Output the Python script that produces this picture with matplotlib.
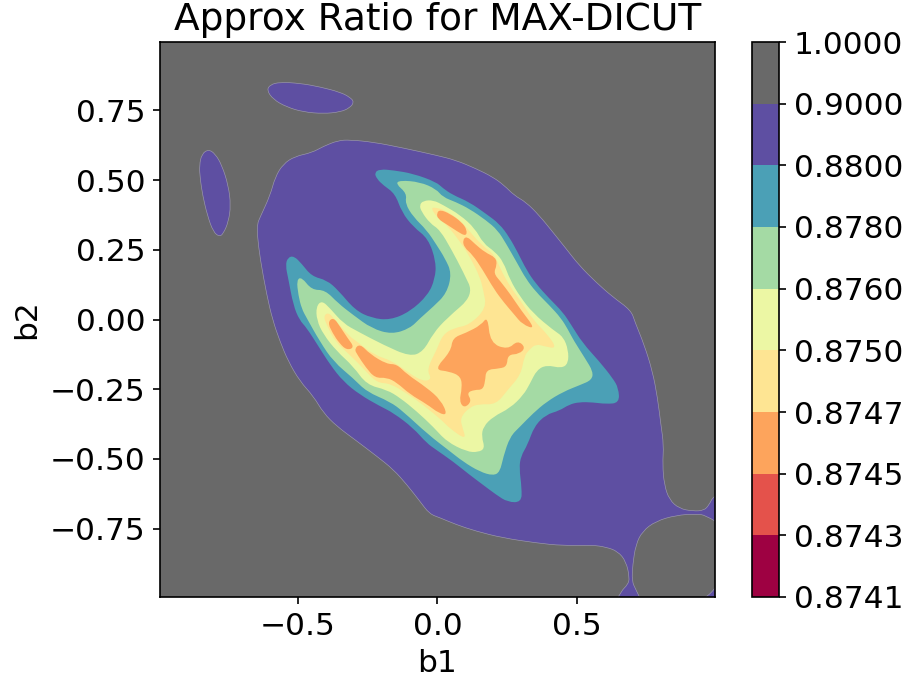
import matplotlib
matplotlib.use("Agg")
import matplotlib.pyplot as plt
from matplotlib.cm import ScalarMappable
from matplotlib.colors import BoundaryNorm, ListedColormap
from matplotlib.patches import PathPatch
from matplotlib.path import Path

# contour levels of the approximation ratio and their band colours
levels = [0.8741, 0.8743, 0.8745, 0.8747, 0.8750, 0.8760, 0.8780, 0.8800, 0.9000, 1.0000]
band_colors = ['#9e0142', '#e4524b', '#fda45c', '#fee593', '#ecf7a4',
               '#a4daa4', '#4ba0b6', '#5e4fa2', '#696969']
title = 'Approx Ratio for MAX-DICUT'

# contour outlines, (b1, b2) pairs
# band 0.88-0.90
purple_top = [(-0.612,0.822),(-0.600,0.842),(-0.565,0.851),(-0.493,0.847),(-0.421,0.834),(-0.349,0.815),(-0.314,0.797),
              (-0.299,0.780),(-0.314,0.759),(-0.349,0.744),(-0.409,0.738),(-0.481,0.744),(-0.541,0.762),(-0.589,0.789)]
purple_left = [(-0.854,0.553),(-0.845,0.594),(-0.821,0.610),(-0.797,0.594),(-0.773,0.553),(-0.750,0.481),(-0.741,0.409),
               (-0.750,0.349),(-0.768,0.308),(-0.782,0.297),(-0.804,0.314),(-0.825,0.373),(-0.842,0.445),(-0.851,0.505)]
purple_main = [(-0.646,0.343),(-0.636,0.367),(-0.600,0.445),(-0.582,0.511),(-0.553,0.558),(-0.511,0.585),(-0.451,0.598),
               (-0.409,0.621),(-0.356,0.642),(-0.314,0.644),(-0.230,0.636),(-0.123,0.615),(-0.005,0.589),(0.066,0.571),
               (0.138,0.541),(0.198,0.511),(0.239,0.481),(0.275,0.445),(0.317,0.421),(0.365,0.373),(0.413,0.314),
               (0.461,0.254),(0.508,0.194),(0.568,0.134),(0.628,0.081),(0.694,0.033),(0.708,-0.009),(0.741,-0.090),
               (0.771,-0.186),(0.789,-0.281),(0.801,-0.377),(0.811,-0.449),(0.807,-0.520),(0.813,-0.592),(0.831,-0.646),
               (0.867,-0.678),(0.915,-0.687),(0.956,-0.685),(0.974,-0.664),(0.989,-0.634),(1.05,-0.60),(1.05,-0.90),
               (1.05,-1.05),(0.90,-1.05),(0.62,-1.05),(0.658,-0.974),(0.682,-0.951),(0.689,-0.927),(0.676,-0.867),(0.646,-0.831),(0.604,-0.816),
               (0.556,-0.809),(0.449,-0.811),(0.353,-0.801),(0.234,-0.783),(0.138,-0.759),(0.066,-0.735),(0.009,-0.711),
               (-0.029,-0.697),(-0.063,-0.652),(-0.110,-0.592),(-0.158,-0.538),(-0.218,-0.490),(-0.296,-0.431),
               (-0.361,-0.383),(-0.409,-0.335),(-0.445,-0.275),(-0.493,-0.222),(-0.535,-0.150),(-0.565,-0.078),
               (-0.591,-0.002),(-0.612,0.087),(-0.636,0.218),(-0.646,0.302)]
# band 0.90-1.00 enclosed in the lower right corner
grey_corner = [(1.03,-0.745),(0.962,-0.702),(0.927,-0.697),(0.855,-0.702),(0.783,-0.723),(0.735,-0.759),(0.711,-0.807),
               (0.700,-0.879),(0.697,-0.938),(0.711,-0.968),(0.741,-1.03),(0.93,-1.03),(1.03,-0.93)]
# band 0.878-0.880
teal = [(-0.206,0.539),(-0.158,0.535),(-0.087,0.523),(-0.005,0.493),(0.019,0.471),(0.054,0.447),(0.114,0.421),(0.174,0.379),
        (0.222,0.343),(0.257,0.296),(0.287,0.242),(0.320,0.176),(0.353,0.128),(0.401,0.075),(0.449,0.027),(0.480,-0.020),
        (0.520,-0.084),(0.580,-0.150),(0.628,-0.210),(0.649,-0.246),(0.652,-0.299),(0.604,-0.303),(0.556,-0.297),
        (0.508,-0.296),(0.472,-0.305),(0.437,-0.327),(0.389,-0.341),(0.347,-0.383),(0.323,-0.449),(0.299,-0.490),
        (0.293,-0.532),(0.302,-0.604),(0.301,-0.655),(0.252,-0.655),(0.210,-0.628),(0.162,-0.592),(0.114,-0.556),
        (0.054,-0.508),(-0.005,-0.467),(-0.039,-0.443),(-0.087,-0.389),(-0.158,-0.335),(-0.206,-0.311),(-0.278,-0.270),
        (-0.338,-0.222),(-0.385,-0.162),(-0.427,-0.096),(-0.469,-0.030),(-0.495,-0.002),(-0.517,0.051),(-0.535,0.146),
        (-0.545,0.194),(-0.537,0.222),(-0.515,0.228),(-0.487,0.200),(-0.451,0.155),(-0.397,0.141),(-0.356,0.105),
        (-0.296,0.034),(-0.236,0.005),(-0.170,-0.002),(-0.099,0.028),(-0.034,0.088),(-0.009,0.146),(-0.005,0.206),
        (-0.033,0.290),(-0.087,0.332),(-0.128,0.385),(-0.152,0.451),(-0.194,0.481),(-0.218,0.505),(-0.226,0.527)]
# band 0.876-0.878
green = [(-0.150,0.487),(-0.134,0.499),(-0.063,0.493),(-0.005,0.468),(0.019,0.439),(0.066,0.421),(0.114,0.397),(0.174,0.356),
         (0.216,0.320),(0.246,0.272),(0.287,0.200),(0.317,0.146),(0.353,0.099),(0.401,0.051),(0.443,0.005),(0.469,-0.038),
         (0.487,-0.073),(0.529,-0.139),(0.558,-0.187),(0.553,-0.217),(0.511,-0.235),(0.451,-0.259),(0.391,-0.295),
         (0.343,-0.336),(0.296,-0.384),(0.260,-0.420),(0.236,-0.492),(0.224,-0.546),(0.200,-0.560),(0.152,-0.546),
         (0.092,-0.510),(0.039,-0.468),(-0.033,-0.413),(-0.123,-0.330),(-0.170,-0.295),(-0.254,-0.259),(-0.302,-0.211),
         (-0.373,-0.151),(-0.421,-0.080),(-0.469,0.005),(-0.487,0.039),(-0.499,0.087),(-0.505,0.142),(-0.487,0.152),
         (-0.451,0.106),(-0.403,0.106),(-0.356,0.058),(-0.302,0.016),(-0.236,-0.032),(-0.164,-0.053),(-0.099,-0.032),
         (-0.063,0.004),(-0.015,0.046),(0.033,0.094),(0.051,0.166),(0.027,0.219),(-0.003,0.267),(-0.039,0.321),
         (-0.087,0.368),(-0.116,0.416),(-0.110,0.452)]
# band 0.875-0.876
lime = [(-0.065,0.410),(-0.051,0.426),(-0.015,0.428),(0.021,0.410),(0.081,0.375),(0.134,0.327),(0.164,0.273),(0.206,0.243),
        (0.236,0.207),(0.260,0.142),(0.296,0.082),(0.343,0.022),(0.415,-0.038),(0.451,-0.062),(0.469,-0.109),(0.469,-0.157),
        (0.445,-0.175),(0.391,-0.163),(0.356,-0.181),(0.332,-0.229),(0.308,-0.271),(0.260,-0.318),(0.200,-0.348),
        (0.164,-0.384),(0.158,-0.420),(0.170,-0.462),(0.146,-0.476),(0.105,-0.474),(0.033,-0.438),(-0.015,-0.385),
        (-0.075,-0.329),(-0.134,-0.281),(-0.182,-0.252),(-0.254,-0.234),(-0.302,-0.168),(-0.361,-0.114),(-0.409,-0.054),
        (-0.433,-0.002),(-0.435,0.046),(-0.415,0.068),(-0.385,0.040),(-0.338,-0.014),(-0.284,-0.044),(-0.194,-0.091),
        (-0.099,-0.133),(-0.051,-0.115),(-0.015,-0.049),(0.033,0.004),(0.131,0.088),(0.092,0.171),(0.051,0.249),
        (0.009,0.321),(-0.027,0.345),(-0.057,0.386)]
# band 0.8747-0.875
light = [(-0.023,0.399),(-0.009,0.402),(0.027,0.392),(0.081,0.357),(0.116,0.315),(0.158,0.267),(0.206,0.231),(0.224,0.184),
         (0.260,0.118),(0.296,0.070),(0.343,-0.002),(0.397,-0.056),(0.428,-0.105),(0.383,-0.096),(0.353,-0.088),
         (0.329,-0.108),(0.311,-0.132),(0.299,-0.198),(0.252,-0.252),(0.210,-0.305),(0.150,-0.303),(0.114,-0.315),
         (0.081,-0.353),(0.090,-0.389),(0.103,-0.432),(0.042,-0.389),(0.021,-0.366),(-0.051,-0.306),(-0.110,-0.265),
         (-0.170,-0.229),(-0.218,-0.227),(-0.266,-0.175),(-0.314,-0.127),(-0.367,-0.080),(-0.397,-0.020),(-0.409,0.012),
         (-0.391,0.026),(-0.367,-0.002),(-0.314,-0.062),(-0.290,-0.078),(-0.230,-0.126),(-0.158,-0.150),(-0.099,-0.195),
         (-0.051,-0.222),(-0.020,-0.214),(-0.039,-0.180),(-0.003,-0.109),(0.019,-0.054),(0.060,-0.030),(0.114,-0.020),
         (0.176,0.041),(0.164,0.106),(0.152,0.153),(0.116,0.225),(0.081,0.279),(0.039,0.333),(-0.003,0.368)]
# band 0.8745-0.8747
orange_a = [(-0.003,0.381),(0.009,0.394),(0.045,0.379),(0.087,0.349),(0.106,0.321),(0.102,0.298),(0.069,0.317),(0.033,0.341),(0.001,0.361)]
orange_b = [(0.090,0.285),(0.105,0.299),(0.134,0.271),(0.170,0.241),(0.209,0.222),(0.213,0.195),(0.201,0.166),(0.227,0.135),
            (0.263,0.088),(0.299,0.034),(0.352,-0.035),(0.305,-0.018),(0.275,0.018),(0.239,0.060),(0.203,0.108),(0.161,0.180),
            (0.125,0.233),(0.096,0.258)]
orange_c = [(0.180,0.012),(0.189,-0.084),(0.252,-0.108),(0.287,-0.075),(0.316,-0.100),(0.293,-0.124),(0.252,-0.126),(0.249,-0.168),
            (0.222,-0.176),(0.174,-0.180),(0.171,-0.222),(0.162,-0.252),(0.132,-0.252),(0.105,-0.263),(0.123,-0.293),(0.096,-0.318),
            (0.078,-0.293),(0.088,-0.246),(0.084,-0.204),(0.042,-0.186),(-0.012,-0.180),(0.048,-0.114),(0.054,-0.066),(0.102,-0.048),(0.156,-0.020)]
orange_d = [(-0.394,-0.010),(-0.373,0.008),(-0.349,-0.026),(-0.322,-0.067),(-0.298,-0.100),(-0.325,-0.110),(-0.352,-0.085),(-0.376,-0.049)]
orange_e = [(-0.298,-0.106),(-0.278,-0.087),(-0.242,-0.124),(-0.182,-0.160),(-0.146,-0.160),(-0.110,-0.196),(-0.039,-0.244),
            (0.012,-0.289),(0.036,-0.342),(0.006,-0.337),(-0.039,-0.303),(-0.099,-0.268),(-0.146,-0.226),(-0.182,-0.208),
            (-0.224,-0.210),(-0.257,-0.172),(-0.287,-0.127)]

# outlines with the value of their band, lowest-lying surface painted first
regions = [(0.89, purple_top), (0.89, purple_left), (0.89, purple_main), (0.95, grey_corner),
           (0.879, teal), (0.877, green), (0.8755, lime), (0.8748, light),
           (0.8746, orange_a), (0.8746, orange_b), (0.8746, orange_c), (0.8746, orange_d), (0.8746, orange_e)]


def smooth_outline(points):
    """Closed path with the read points as quadratic control points."""
    n = len(points)
    mids = [((points[i][0] + points[(i + 1) % n][0]) / 2,
             (points[i][1] + points[(i + 1) % n][1]) / 2) for i in range(n)]
    verts = [mids[-1]]
    codes = [Path.MOVETO]
    for i in range(n):
        verts += [points[i], mids[i]]
        codes += [Path.CURVE3, Path.CURVE3]
    return Path(verts, codes)


cmap = ListedColormap(band_colors)
norm = BoundaryNorm(levels, cmap.N)

plt.rcParams['font.size'] = 15
W, H = 905, 683
fig = plt.figure(figsize=(W / 150, H / 150), dpi=150)
ax = fig.add_axes([160 / W, (H - 597) / H, 555 / W, 555 / H])
cax = fig.add_axes([751.5 / W, (H - 597) / H, 27.5 / W, 555 / H])

ax.set_facecolor(band_colors[-1])
for value, outline in regions:
    seam = '#9d9aae' if value >= 0.88 else 'none'
    ax.add_patch(PathPatch(smooth_outline(outline), facecolor=cmap(norm(value)),
                           edgecolor=seam, linewidth=0.3))

ax.set_xlim(-0.995, 0.995)
ax.set_ylim(-0.995, 0.995)
ax.set_xticks([-0.5, 0.0, 0.5])
ax.set_yticks([-0.75, -0.5, -0.25, 0.0, 0.25, 0.5, 0.75])
ax.set_xlabel('b1')
ax.set_ylabel('b2')
ax.set_title(title)

cb = fig.colorbar(ScalarMappable(norm=norm, cmap=cmap), cax=cax, ticks=levels, format='%.4f', spacing='uniform')

fig.savefig('out.png', dpi=150)
